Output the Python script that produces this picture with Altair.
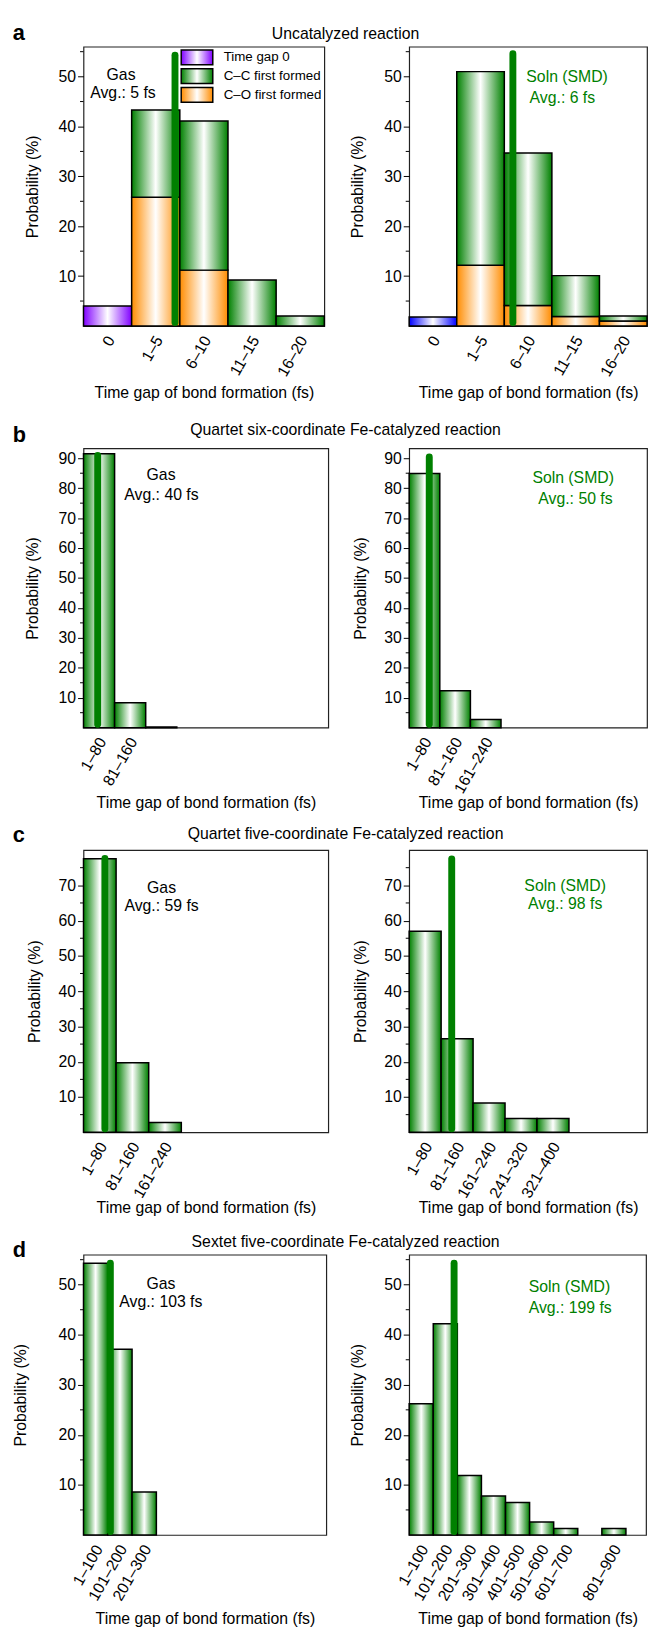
import altair as alt
import pandas as pd

FONT = "Liberation Sans"
GREEN = "#008000"
ORANGE = "#ff8c00"
PURPLE = "#8000ff"
BLUE = "#0000ff"

# ---------------- values ----------------
bins_a = ["0", "1–5", "6–10", "11–15", "16–20"]
gas_a_gap0 = [4.0, 0, 0, 0, 0]
gas_a_co = [0, 25.8, 11.2, 0, 0]
gas_a_cc = [0, 17.5, 29.9, 9.2, 2.0]
soln_a_gap0 = [1.8, 0, 0, 0, 0]
soln_a_co = [0, 12.2, 4.1, 1.9, 1.0]
soln_a_cc = [0, 38.8, 30.6, 8.2, 1.0]

bins_bc = ["1–80", "81–160", "161–240", "241–320", "321–400"]
gas_b = [91.5, 8.3, 0.2]
soln_b = [84.9, 12.3, 2.7]
gas_c = [77.5, 19.7, 2.8]
soln_c = [57.0, 26.5, 8.3, 3.9, 3.9]

bins_d = ["1–100", "101–200", "201–300", "301–400", "401–500",
          "501–600", "601–700", "701–800", "801–900"]
gas_d = [54.3, 37.1, 8.6]
soln_d = [26.2, 42.2, 11.9, 7.8, 6.5, 2.6, 1.3, 0, 1.3]

# tick labels shown on each x axis
gas_ticks = [bins_a, bins_bc[:2], bins_bc[:3], bins_d[:3]]
soln_ticks = [bins_a, bins_bc[:3], bins_bc[:5],
              ["1–100", "101–200", "201–300", "301–400", "401–500",
               "501–600", "601–700", "801–900"]]

gas_avg_fs = [5, 40, 59, 103]
soln_avg_fs = [6, 50, 98, 199]
# average-marker line as drawn in the figure (fs, and its probability extent)
gas_line_fs = [5.0, 37, 53, 111]
soln_line_fs = [6.4, 53, 107, 187]
gas_line_top = [54.3, 90.9, 77.6, 54.3]
soln_line_top = [54.6, 90.4, 77.5, 54.3]
line_bottom = [0.7, 1.1, 1.0, 0.7]

row_titles = ["Uncatalyzed reaction",
              "Quartet six-coordinate Fe-catalyzed reaction",
              "Quartet five-coordinate Fe-catalyzed reaction",
              "Sextet five-coordinate Fe-catalyzed reaction"]
letters = ["a", "b", "c", "d"]
XTITLE = "Time gap of bond formation (fs)"

KINDS = ["Time gap 0", "C–C first formed", "C–O first formed", "Time gap 0 (soln)"]


def grad_expr(c):
    return {"expr": ("{gradient: 'linear', x1: 0, y1: 0, x2: 1, y2: 0, stops: ["
                     "{offset: 0, color: '%s'}, {offset: 0.5, color: '#ffffff'}, "
                     "{offset: 1, color: '%s'}]}") % (c, c)}


def fill_scale():
    return alt.Scale(domain=KINDS,
                     range=[grad_expr(PURPLE), grad_expr(GREEN),
                            grad_expr(ORANGE), grad_expr(BLUE)])


def stacked(bins, lo0, w, layers):
    rows = []
    n = max(len(v) for _, v in layers)
    for i in range(n):
        base = 0.0
        for kind, vals in layers:
            v = vals[i] if i < len(vals) else 0
            if v > 0:
                rows.append(dict(bin=bins[i], lo=lo0 + i * w, hi=lo0 + (i + 1) * w,
                                 y0=base, y1=base + v, kind=kind))
                base += v
    return pd.DataFrame(rows)


PLOT_LEFT = 83.5
TITLE_CENTER = 349


def make_panel(df_bars, bins, lo0, w, xdom, ytop, width, height, tick_bins,
               line_x, line_b, line_t, texts, tcolor, ytp, xext,
               legend=None, heading=None):
    xs = alt.Scale(domain=xdom, nice=False, zero=False)
    ys = alt.Scale(domain=[0, ytop], nice=False, zero=False)
    centers = [lo0 + (bins.index(b) + 0.5) * w for b in tick_bins]
    arr = "[" + ",".join("'" + b + "'" for b in bins) + "]"
    xaxis = alt.Axis(
        values=centers,
        labelExpr=f"{arr}[round((datum.value - ({lo0 + w / 2})) / {w})]",
        labelAngle=300, labelAlign="right", labelBaseline="middle",
        labelPadding=11, labelOffset=3, ticks=False,
        labelOverlap=False, labelFlush=False, labelBound=False,
        title=XTITLE, titlePadding=0, minExtent=xext, maxExtent=xext)
    major = list(range(10, int(ytop - 0.01) + 1, 10))
    minor = list(range(5, int(ytop - 0.01) + 1, 10))
    yaxis = alt.Axis(
        values=major, tickSize=6, tickWidth=1, labelPadding=2,
        labelOverlap=False, labelSeparation=0, labelBound=False, labelFlush=False,
        title="Probability (%)", titlePadding=ytp)
    bars = alt.Chart(df_bars).mark_bar(stroke="black", strokeWidth=1.5).encode(
        x=alt.X("lo:Q", scale=xs, axis=xaxis),
        x2=alt.X2("hi"),
        y=alt.Y("y0:Q", scale=ys, axis=yaxis),
        y2=alt.Y2("y1"),
        fill=alt.Fill("kind:N", scale=fill_scale(), legend=legend),
    )
    minor_ticks = alt.Chart(pd.DataFrame({"m": minor})).mark_rule(
        color="black", strokeWidth=1).encode(
        y=alt.Y("m:Q", scale=ys, axis=yaxis), x=alt.value(0), x2=alt.value(-3.5))
    rule = alt.Chart(pd.DataFrame({"x": [line_x], "yb": [line_b], "yt": [line_t]})).mark_rule(
        color=GREEN, strokeWidth=7, strokeCap="round").encode(
        x=alt.X("x:Q", scale=xs, axis=xaxis),
        y=alt.Y("yb:Q", scale=ys, axis=yaxis), y2=alt.Y2("yt"))
    txt = alt.Chart(pd.DataFrame(texts, columns=["x", "y", "t"])).mark_text(
        font=FONT, fontSize=16, color=tcolor).encode(
        x=alt.X("x:Q", scale=xs, axis=xaxis),
        y=alt.Y("y:Q", scale=ys, axis=yaxis), text="t:N")
    layers = [bars, minor_ticks, rule, txt]
    if heading is not None:
        letter, loff, title, toff = heading
        layers.append(alt.Chart(pd.DataFrame({"t": [letter]})).mark_text(
            font=FONT, fontSize=22, fontWeight="bold", color="black",
            align="left", baseline="alphabetic").encode(
            x=alt.value(11.7 - PLOT_LEFT), y=alt.value(-loff), text="t:N"))
        layers.append(alt.Chart(pd.DataFrame({"t": [title]})).mark_text(
            font=FONT, fontSize=16, color="black",
            align="center", baseline="alphabetic").encode(
            x=alt.value(TITLE_CENTER - PLOT_LEFT), y=alt.value(-toff), text="t:N"))
    return alt.layer(*layers).properties(width=width, height=height)


# layout settings per row
rows_cfg = [
    dict(bins=bins_a, lo0=-4.5, w=5, ytop=56, xl=[-4.5, 20.5], xr=[-4.5, 20.5], wl=244, wr=241,
         h=283, xext=59.5, ytpl=17.8, ytpr=18.7, toff=8.3, loff=7,
         gas=[("Time gap 0", gas_a_gap0), ("C–O first formed", gas_a_co), ("C–C first formed", gas_a_cc)],
         soln=[("Time gap 0 (soln)", soln_a_gap0), ("C–O first formed", soln_a_co), ("C–C first formed", soln_a_cc)],
         gtext=[(-0.6, 50.3), (-0.4, 46.7)], stext=[(12.1, 50.0), (11.6, 45.7)]),
    dict(bins=bins_bc, lo0=0.5, w=80, ytop=93.3, xl=[0.5, 630], xr=[0.5, 622], wl=248, wr=241,
         h=283, xext=67.5, ytpl=17.8, ytpr=15.8, toff=13.7, loff=6,
         gas=[("C–C first formed", gas_b)], soln=[("C–C first formed", soln_b)],
         gtext=[(200, 84.3), (201, 77.6)], stext=[(429, 83.5), (435, 76.4)]),
    dict(bins=bins_bc, lo0=0.5, w=80, ytop=80, xl=[0.5, 601], xr=[0.5, 596], wl=248, wr=241,
         h=286, xext=68.5, ytpl=16.2, ytpr=15.8, toff=10.7, loff=8.3,
         gas=[("C–C first formed", gas_c)], soln=[("C–C first formed", soln_c)],
         gtext=[(192, 69.3), (192, 64.1)], stext=[(391, 69.8), (391, 64.6)]),
    dict(bins=bins_d, lo0=0.5, w=100, ytop=56, xl=[0.5, 1000], xr=[0.5, 984], wl=246, wr=240,
         h=284, xext=76.8, ytpl=29.5, ytpr=18.5, toff=7.3, loff=-2.7,
         gas=[("C–C first formed", gas_d)], soln=[("C–C first formed", soln_d)],
         gtext=[(319, 50.2), (319, 46.5)], stext=[(666, 49.5), (669, 45.4)]),
]

legend_a = alt.Legend(
    orient="none", legendX=106.5, legendY=2.3, title=None, values=KINDS[:3],
    symbolType="M-2.133,-1L2.133,-1L2.133,1L-2.133,1Z", symbolSize=225,
    symbolStrokeColor="black", symbolStrokeWidth=1.5, symbolOpacity=1,
    labelFont=FONT, labelFontSize=13.5, labelColor="black", labelOffset=18.5,
    rowPadding=-2.5, padding=0)

panels = []
for k, cfg in enumerate(rows_cfg):
    gtexts = [(cfg["gtext"][0][0], cfg["gtext"][0][1], "Gas"),
              (cfg["gtext"][1][0], cfg["gtext"][1][1], f"Avg.: {gas_avg_fs[k]} fs")]
    stexts = [(cfg["stext"][0][0], cfg["stext"][0][1], "Soln (SMD)"),
              (cfg["stext"][1][0], cfg["stext"][1][1], f"Avg.: {soln_avg_fs[k]} fs")]
    panels.append(make_panel(
        stacked(cfg["bins"], cfg["lo0"], cfg["w"], cfg["gas"]),
        cfg["bins"], cfg["lo0"], cfg["w"], cfg["xl"], cfg["ytop"], cfg["wl"], cfg["h"],
        gas_ticks[k], gas_line_fs[k], line_bottom[k], gas_line_top[k],
        gtexts, "black", cfg["ytpl"], cfg["xext"],
        legend=legend_a if k == 0 else None,
        heading=(letters[k], cfg["loff"], row_titles[k], cfg["toff"])))
    panels.append(make_panel(
        stacked(cfg["bins"], cfg["lo0"], cfg["w"], cfg["soln"]),
        cfg["bins"], cfg["lo0"], cfg["w"], cfg["xr"], cfg["ytop"], cfg["wr"], cfg["h"],
        soln_ticks[k], soln_line_fs[k], line_bottom[k], soln_line_top[k],
        stexts, GREEN, cfg["ytpr"], cfg["xext"]))

chart = alt.concat(
    *panels, columns=2, spacing={"row": 124, "column": 82}, bounds="flush", align="each"
).resolve_scale(fill="independent").resolve_legend(fill="independent").properties(
    padding={"left": 3.5, "top": 2.4, "right": 0, "bottom": 0}
).configure(font=FONT).configure_view(
    stroke="#222222", strokeWidth=1.2
).configure_axis(
    labelFont=FONT, titleFont=FONT, labelFontSize=16, titleFontSize=16,
    titleFontWeight="normal", labelColor="black", titleColor="black",
    tickColor="black", grid=False, domain=False, labelOverlap=False
)

chart.save("out.html", embed_options={"renderer": "svg", "actions": False})
